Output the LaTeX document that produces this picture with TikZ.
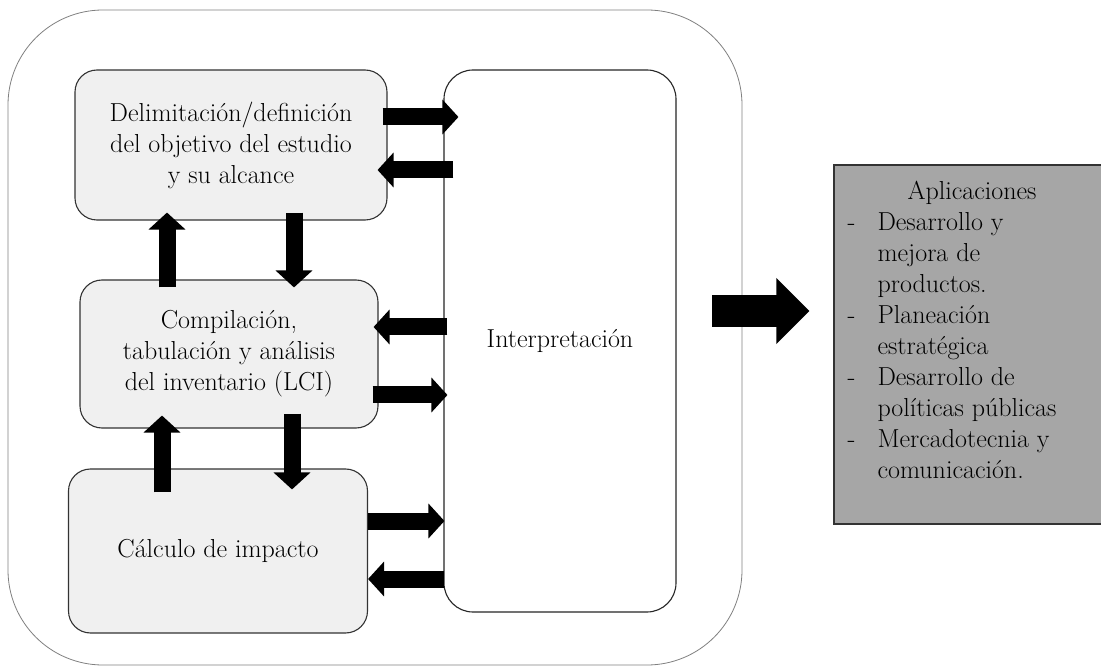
\documentclass[tikz,border=0pt]{standalone}
\usepackage{fontspec}
\usetikzlibrary{arrows.meta,calc}
\begin{document}
\begin{tikzpicture}[x=1pt,y=-1pt,
  txt/.style={font=\fontsize{26}{31}\selectfont, align=center},
  procbox/.style={draw=black!80, line width=1.1pt, fill=black!6, rounded corners=22pt, inner sep=0pt},
  interpbox/.style={draw=black!85, line width=1.1pt, fill=white, rounded corners=29pt, inner sep=0pt},
  outerbox/.style={draw=black!50, line width=0.8pt, fill=white, rounded corners=95pt, inner sep=0pt},
  appbox/.style={draw=black!80, line width=1.1pt, fill=black!35, inner sep=0pt},
  harr/.style={line width=17pt, -{Triangle[length=16pt,width=34pt]}},
  varr/.style={line width=17pt, -{Triangle[length=17pt,width=36pt]}},
  bigarr/.style={line width=32pt, -{Triangle[length=33pt,width=64pt]}}]
\useasboundingbox (0,0) rectangle (1101,668);
\node[outerbox, minimum width=734pt, minimum height=655pt] (outer) at (375,337.5) {};
\node[procbox, minimum width=312pt, minimum height=150pt, txt] (b1) at (231,145) {Delimitación/definición\\del objetivo del estudio\\y su alcance};
\node[procbox, minimum width=298pt, minimum height=148pt, txt] (b2) at (229,354) {Compilación,\\tabulación y análisis\\del inventario (LCI)};
\node[procbox, minimum width=299pt, minimum height=164pt, txt] (b3) at (218,551) {Cálculo de impacto};
\node[interpbox, minimum width=232pt, minimum height=542pt, txt] (interp) at (560,341) {Interpretación};
\node[appbox, minimum width=268pt, minimum height=359pt] (apps) at (968,344.5) {};
\node[font=\fontsize{26}{31}\selectfont, inner sep=0pt] (appstext) at (950,333) {%
\begin{tabular}{@{}p{34pt}@{}l@{}}
\multicolumn{2}{c}{\hspace{44pt}Aplicaciones}\\
\hspace{4pt}- & Desarrollo y\\
 & mejora de\\
 & productos.\\
\hspace{4pt}- & Planeación\\
 & estratégica\\
\hspace{4pt}- & Desarrollo de\\
 & políticas públicas\\
\hspace{4pt}- & Mercadotecnia y\\
 & comunicación.
\end{tabular}};
% horizontal arrows
\draw[harr] ($(b1.east |- 0,117)+(-5,0)$) -- ($(interp.west |- 0,117)+(15,0)$);
\draw[harr] ($(interp.west |- 0,170)+(10,0)$) -- ($(b1.east |- 0,170)+(-10,0)$);
\draw[harr] ($(interp.west |- 0,327)+(4,0)$) -- ($(b2.east |- 0,327)+(-5,0)$);
\draw[harr] ($(b2.east |- 0,395)+(-6,0)$) -- ($(interp.west |- 0,395)+(4,0)$);
\draw[harr] ($(b3.east |- 0,521)+(0,0)$) -- ($(interp.west |- 0,521)+(1,0)$);
\draw[harr] ($(interp.west |- 0,579)+(1,0)$) -- ($(b3.east |- 0,579)+(0,0)$);
% vertical arrows
\draw[varr] ($(b2.north -| 167,0)+(0,8)$) -- ($(b1.south -| 167,0)+(0,-8)$);
\draw[varr] ($(b1.south -| 294,0)+(0,-8)$) -- ($(b2.north -| 294,0)+(0,8)$);
\draw[varr] ($(b3.north -| 162,0)+(0,24)$) -- ($(b2.south -| 162,0)+(0,-13)$);
\draw[varr] ($(b2.south -| 292,0)+(0,-15)$) -- ($(b3.north -| 292,0)+(0,21)$);
% big arrow
\draw[bigarr] ($(outer.east |- 0,311)+(-30,0)$) -- ($(apps.west |- 0,311)+(-24,0)$);
\end{tikzpicture}
\end{document}
